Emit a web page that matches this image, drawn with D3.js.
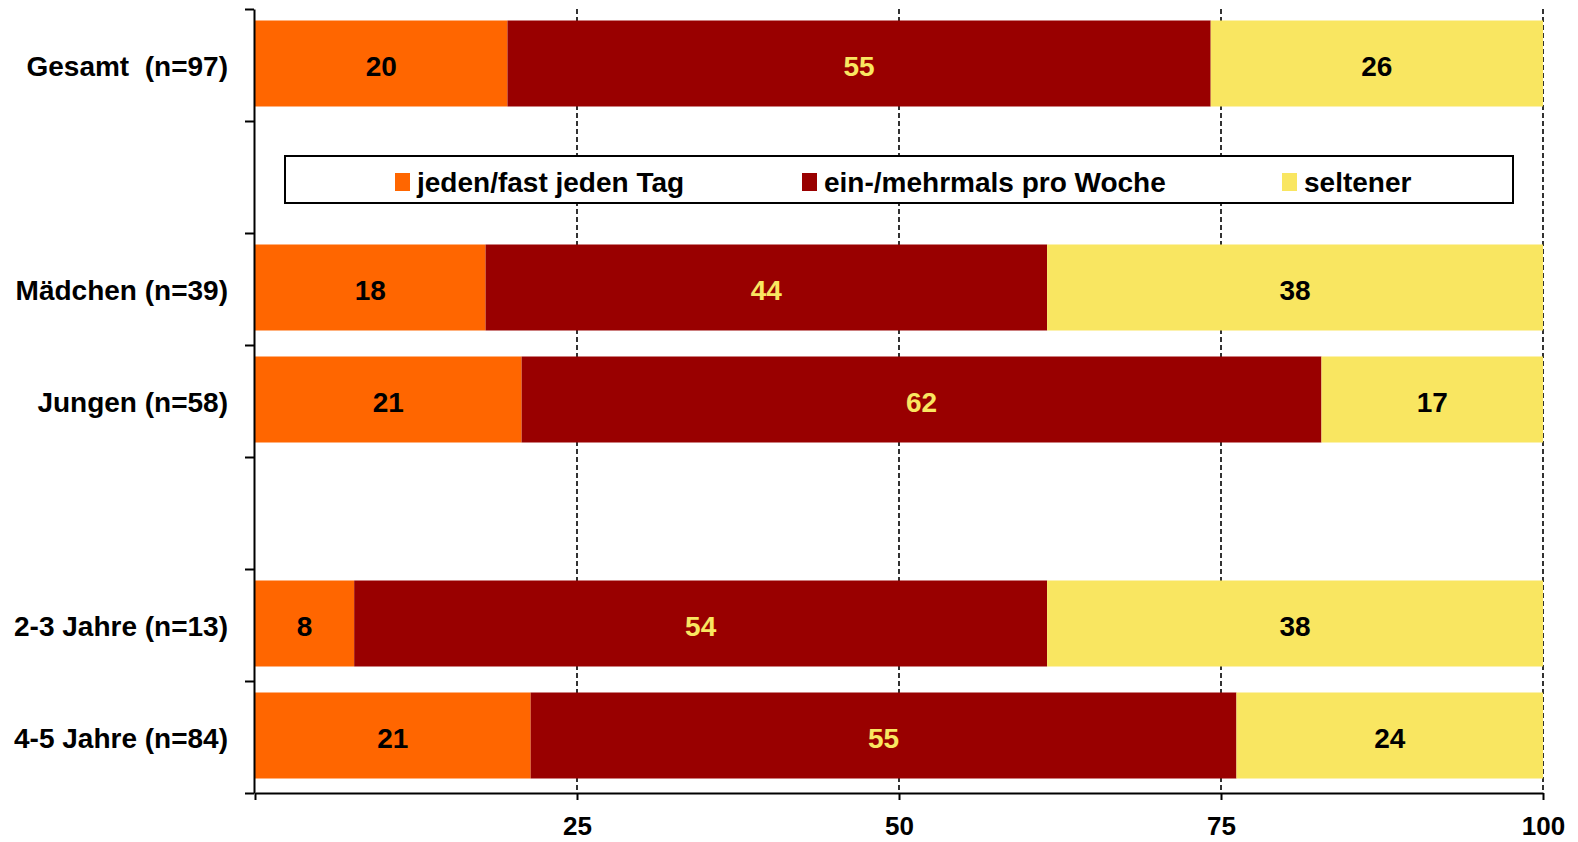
<!DOCTYPE html>
<html>
<head>
<meta charset="utf-8">
<script src="https://cdn.jsdelivr.net/npm/d3@7"></script>
<style>
  html, body { margin: 0; padding: 0; background: #fff; }
  svg { display: block; font-family: "Liberation Sans", Arial, sans-serif; font-weight: bold; }
</style>
</head>
<body>
<svg id="chart" width="1578" height="842"></svg>
<script>
// ---- data ----
const categories = ["Gesamt  (n=97)", "", "Mädchen (n=39)", "Jungen (n=58)", "", "2-3 Jahre (n=13)", "4-5 Jahre (n=84)"];
const seriesNames = ["jeden/fast jeden Tag", "ein-/mehrmals pro Woche", "seltener"];
const daily  = [19.6, null, 17.9, 20.7, null, 7.7, 21.4];
const weekly = [54.6, null, 43.6, 62.1, null, 53.8, 54.8];
const rarely = [25.8, null, 38.5, 17.2, null, 38.5, 23.8];
const dailyLabels  = ["20", "", "18", "21", "", "8", "21"];
const weeklyLabels = ["55", "", "44", "62", "", "54", "55"];
const rarelyLabels = ["26", "", "38", "17", "", "38", "24"];
const xTicks = [0, 25, 50, 75, 100];

const colors = ["#FF6600", "#990000", "#F9E661"];
const labelColors = ["#000000", "#F9E661", "#000000"];

const svg = d3.select("#chart");

const x = d3.scaleLinear().domain([0, 100]).range([255, 1543]);
const y = d3.scaleBand().domain(d3.range(categories.length)).range([9, 793]).padding(0);
const yEdges = d3.scaleLinear().domain([0, categories.length]).range([9, 793]);
const barH = 86;
const barOff = 11.5;

// gridlines
svg.append("g").selectAll("line").data(xTicks.filter(d => d > 0)).join("line")
  .attr("x1", d => x(d)).attr("x2", d => x(d))
  .attr("y1", 9).attr("y2", 793)
  .attr("stroke", "#000").attr("stroke-width", 1.6)
  .attr("stroke-dasharray", "5,3");

// stacked bars
const rows = categories.map((c, i) => ({ i, vals: [daily[i], weekly[i], rarely[i]], labs: [dailyLabels[i], weeklyLabels[i], rarelyLabels[i]] }))
  .filter(r => r.vals[0] != null);
const segs = [];
rows.forEach(r => {
  let acc = 0;
  r.vals.forEach((v, k) => {
    segs.push({ i: r.i, k, x0: acc, x1: acc + v, lab: r.labs[k] });
    acc += v;
  });
});
const gBars = svg.append("g");
gBars.selectAll("rect").data(segs).join("rect")
  .attr("x", d => x(d.x0))
  .attr("width", d => x(d.x1) - x(d.x0))
  .attr("y", d => y(d.i) + barOff)
  .attr("height", barH)
  .attr("fill", d => colors[d.k]);
gBars.selectAll("text").data(segs).join("text")
  .attr("x", d => (x(d.x0) + x(d.x1)) / 2)
  .attr("y", d => y(d.i) + barOff + barH / 2 + 12)
  .attr("text-anchor", "middle")
  .attr("font-size", 28)
  .attr("fill", d => labelColors[d.k])
  .text(d => d.lab);

// y axis
const yAxis = d3.axisLeft(yEdges).tickValues(d3.range(categories.length + 1)).tickFormat("").tickSize(9).tickSizeOuter(0);
const gy = svg.append("g").attr("transform", "translate(254,0)").call(yAxis);
gy.select(".domain").attr("stroke", "#000").attr("stroke-width", 2);
gy.selectAll(".tick line").attr("stroke", "#000").attr("stroke-width", 2);

// category labels
svg.append("g").selectAll("text").data(categories).join("text")
  .attr("x", 228)
  .attr("y", (d, i) => y(i) + barOff + barH / 2 + 12)
  .attr("text-anchor", "end")
  .attr("font-size", 28)
  .attr("fill", "#000")
  .style("white-space", "pre")
  .attr("xml:space", "preserve")
  .text(d => d);

// x axis
const xAxis = d3.axisBottom(x).tickValues(xTicks).tickFormat(d => d === 0 ? "" : d).tickSize(7).tickSizeOuter(0).tickPadding(17);
const gx = svg.append("g").attr("transform", "translate(0,793)").call(xAxis);
gx.select(".domain").attr("stroke", "#000").attr("stroke-width", 2);
gx.selectAll(".tick line").attr("stroke", "#000").attr("stroke-width", 2);
gx.selectAll(".tick text").attr("font-size", 26).attr("font-family", "'Liberation Sans', Arial, sans-serif").attr("font-weight", "bold").attr("fill", "#000");

// legend
const lg = svg.append("g");
lg.append("rect").attr("x", 285).attr("y", 156).attr("width", 1228).attr("height", 47)
  .attr("fill", "#fff").attr("stroke", "#000").attr("stroke-width", 2);
const legendX = [395, 802, 1282];
const items = lg.selectAll("g.item").data(seriesNames).join("g").attr("class", "item")
  .attr("transform", (d, i) => `translate(${legendX[i]},0)`);
items.append("rect").attr("x", 0).attr("y", 173).attr("width", 15).attr("height", 18)
  .attr("fill", (d, i) => colors[i]);
items.append("text").attr("x", 22).attr("y", 192).attr("font-size", 28).attr("fill", "#000").text(d => d);
</script>
</body>
</html>
